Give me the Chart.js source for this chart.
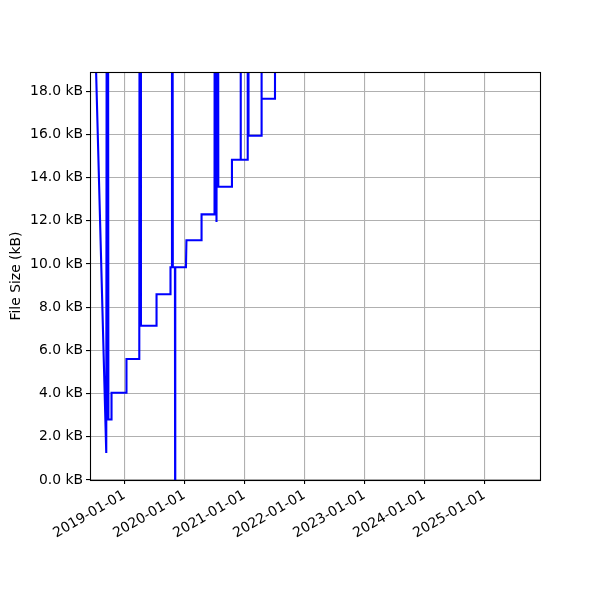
<!DOCTYPE html>
<html><head><meta charset="utf-8">
<script src="https://cdn.jsdelivr.net/npm/chart.js@4.4.0/dist/chart.umd.min.js"></script>
<style>html,body{margin:0;padding:0;background:#fff;} canvas{display:block;}</style>
</head><body>
<canvas id="c" width="600" height="600"></canvas>
<script>
// ---- data ----
const dates = [
  '2018-07-04','2018-09-13','2018-09-20','2018-09-26','2018-10-14','2018-10-15',
  '2019-01-12','2019-01-14','2019-04-02','2019-04-07','2019-04-12','2019-07-13',
  '2019-07-16','2019-10-08','2019-10-09','2019-10-14','2019-10-18','2019-10-23',
  '2019-11-05','2019-11-06','2019-11-07','2020-01-11','2020-01-14','2020-04-12',
  '2020-04-15','2020-07-03','2020-07-06','2020-07-15','2020-07-21','2020-07-26',
  '2020-10-16','2020-10-17','2020-12-05','2020-12-08','2020-12-11','2021-01-17',
  '2021-01-21','2021-01-26','2021-04-12','2021-04-14','2021-04-17','2021-07-06',
  '2021-07-08'
];
const sizesKB = [
  21.5, 1.25, 60, 2.8, 2.8, 4.04,
  4.04, 5.6, 5.6, 60, 7.14, 7.14,
  8.6, 8.6, 9.85, 9.85, 60, 9.85,
  9.85, 0, 9.85, 9.85, 11.1, 11.1,
  12.3, 12.3, 60, 11.95, 60, 13.58,
  13.58, 14.83, 14.83, 60, 14.83, 14.83,
  60, 15.94, 15.94, 60, 17.65, 17.65,
  60
];
const xTickDates = ['2019-01-01','2020-01-01','2021-01-01','2022-01-01','2023-01-01','2024-01-01','2025-01-01'];
const xRange = ['2018-06-06','2025-12-05'];
const yTicks = [0,2,4,6,8,10,12,14,16,18];
const yRange = [0, 18.89];
const yTitle = 'File Size (kB)';

// ---- chart ----
const toMs = s => Date.parse(s + 'T00:00:00Z');
const points = dates.map((d, i) => ({x: toMs(d), y: sizesKB[i]}));
const FONT = {family: 'DejaVu Sans', size: 13.9};

const framePlugin = {
  id: 'frame',
  afterDraw(chart) {
    const {ctx, chartArea: a} = chart;
    ctx.save();
    ctx.strokeStyle = '#000';
    ctx.lineWidth = 1.1;
    ctx.strokeRect(Math.round(a.left) + 0.5, Math.round(a.top) + 0.5,
                   Math.round(a.right - a.left), Math.round(a.bottom - a.top));
    ctx.restore();
  }
};

new Chart(document.getElementById('c'), {
  type: 'line',
  data: {datasets: [{
    data: points, borderColor: '#0000ff', borderWidth: 2.1,
    pointRadius: 0, fill: false, tension: 0
  }]},
  options: {
    responsive: false, animation: false, devicePixelRatio: 1,
    layout: {padding: {left: 0, right: 60, top: 72, bottom: 0}},
    plugins: {legend: {display: false}, tooltip: {enabled: false}},
    scales: {
      x: {
        type: 'linear', min: toMs(xRange[0]), max: toMs(xRange[1]),
        afterBuildTicks(s) { s.ticks = xTickDates.map(d => ({value: toMs(d)})); },
        afterFit(s) { s.height = 120; },
        ticks: {
          autoSkip: false, minRotation: 30, maxRotation: 30, padding: 3,
          color: '#000', font: FONT,
          callback: v => new Date(v).toISOString().slice(0, 10)
        },
        grid: {color: '#b0b0b0', lineWidth: 1.1, tickColor: '#000', tickLength: 4, drawTicks: true},
        border: {display: false}
      },
      y: {
        min: yRange[0], max: yRange[1],
        afterBuildTicks(s) { s.ticks = yTicks.map(v => ({value: v})); },
        afterFit(s) { s.width = 90; },
        ticks: {
          color: '#000', font: FONT, padding: 3,
          callback: v => Number(v).toFixed(1) + ' kB'
        },
        grid: {color: '#b0b0b0', lineWidth: 1.1, tickColor: '#000', tickLength: 4, drawTicks: true},
        border: {display: false},
        title: {display: true, text: yTitle, color: '#000', font: FONT, padding: {top: 8, bottom: 0}}
      }
    }
  },
  plugins: [framePlugin]
});
</script>
</body></html>
